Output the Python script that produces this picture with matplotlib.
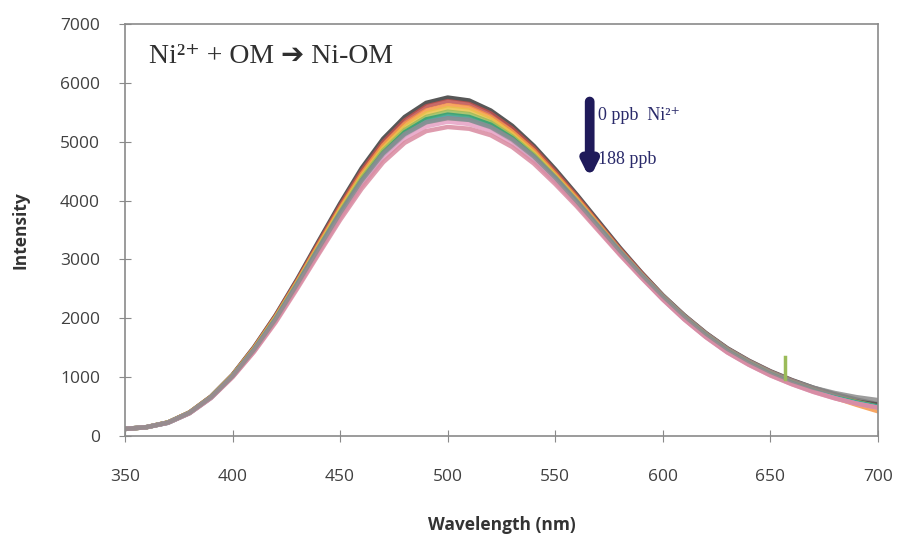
import matplotlib.pyplot as plt

# wavelength grid (nm)
wavelength = [350, 360, 370, 380, 390, 400, 410, 420, 430, 440, 450, 460,
              470, 480, 490, 500, 510, 520, 530, 540, 550, 560, 570, 580,
              590, 600, 610, 620, 630, 640, 650, 660, 670, 680, 690, 700]

# spectra, 0 ppb (top) -> 188 ppb (bottom)
s0 = [120, 150, 230, 400, 670, 1040, 1510, 2050, 2660, 3310, 3950, 4550,
      5050, 5420, 5660, 5750, 5700, 5530, 5270, 4930, 4530, 4100, 3650, 3200,
      2780, 2390, 2050, 1750, 1490, 1280, 1100, 950, 820, 710, 620, 540]
s1 = [120, 150, 230, 400, 670, 1035, 1500, 2040, 2640, 3280, 3910, 4500,
      4990, 5360, 5600, 5690, 5640, 5480, 5220, 4890, 4490, 4070, 3620, 3180,
      2770, 2380, 2040, 1740, 1480, 1270, 1090, 940, 800, 680, 580, 490]
s2 = [120, 150, 230, 400, 665, 1030, 1490, 2020, 2620, 3250, 3870, 4450,
      4940, 5300, 5530, 5620, 5580, 5420, 5170, 4850, 4450, 4040, 3600, 3160,
      2750, 2370, 2030, 1730, 1470, 1260, 1080, 920, 780, 650, 530, 420]
s3 = [120, 150, 230, 395, 660, 1025, 1480, 2010, 2600, 3220, 3840, 4410,
      4890, 5250, 5480, 5570, 5530, 5380, 5130, 4810, 4420, 4010, 3580, 3140,
      2740, 2360, 2020, 1720, 1460, 1250, 1070, 910, 780, 660, 560, 470]
s4 = [120, 150, 230, 395, 660, 1020, 1470, 2000, 2590, 3200, 3810, 4380,
      4850, 5200, 5420, 5510, 5470, 5330, 5090, 4780, 4400, 3990, 3560, 3130,
      2730, 2350, 2010, 1710, 1450, 1240, 1060, 910, 780, 670, 580, 500]
s5 = [120, 150, 225, 390, 655, 1015, 1460, 1980, 2570, 3180, 3780, 4340,
      4810, 5160, 5380, 5460, 5420, 5290, 5060, 4750, 4380, 3970, 3550, 3120,
      2720, 2340, 2000, 1700, 1440, 1230, 1050, 900, 770, 660, 570, 500]
s6 = [120, 150, 225, 390, 650, 1010, 1450, 1970, 2550, 3150, 3750, 4300,
      4770, 5110, 5330, 5410, 5370, 5240, 5020, 4720, 4350, 3950, 3530, 3110,
      2710, 2330, 1990, 1690, 1430, 1220, 1040, 890, 760, 650, 560, 490]
s7 = [120, 150, 225, 390, 650, 1005, 1440, 1950, 2530, 3120, 3710, 4250,
      4710, 5050, 5260, 5340, 5300, 5180, 4970, 4680, 4320, 3930, 3510, 3090,
      2700, 2320, 1980, 1680, 1420, 1210, 1030, 880, 750, 640, 550, 480]
s8 = [120, 150, 225, 385, 645, 1000, 1430, 1930, 2500, 3090, 3670, 4200,
      4650, 4980, 5180, 5250, 5220, 5110, 4910, 4630, 4280, 3900, 3490, 3080,
      2690, 2320, 1980, 1680, 1420, 1210, 1030, 880, 750, 640, 550, 480]
s9 = [120, 150, 228, 395, 660, 1020, 1470, 1990, 2580, 3190, 3790, 4340,
      4800, 5130, 5330, 5400, 5370, 5250, 5040, 4750, 4390, 3990, 3570, 3150,
      2750, 2380, 2040, 1740, 1480, 1270, 1090, 940, 820, 730, 660, 610]
spectra = [s0, s1, s2, s3, s4, s5, s6, s7, s8, s9]
colors = ['#3a3a3a', '#c0504d', '#f79646', '#e8c24a', '#9bbb59',
          '#2f9e77', '#4bacc6', '#e6a0c4', '#d98aa0', '#8c8c8c']

# small spike on one trace near 657 nm
spike_wl = [657, 657]
spike_val = [960, 1340]

serif = ['Liberation Serif', 'DejaVu Sans']

fig = plt.figure(figsize=(9.03, 5.4), dpi=100)
ax = fig.add_axes([0.1384, 0.1926, 0.8339, 0.763])

for s, c in zip(spectra, colors):
    ax.plot(wavelength, s, color=c, lw=3.2, alpha=0.85, solid_capstyle='round')
ax.plot(spike_wl, spike_val, color='#9bbb59', lw=2.5)

ax.set_xlim(350, 700)
ax.set_ylim(0, 7000)
ax.set_xticks(range(350, 701, 50))
ax.set_yticks(range(0, 7001, 1000))

for sp in ax.spines.values():
    sp.set_color('#8a8a8a')
    sp.set_linewidth(1.2)
ax.tick_params(axis='both', colors='#8a8a8a', labelcolor='#404040',
               labelsize=12.5, direction='inout', length=8)
for lab in ax.get_xticklabels() + ax.get_yticklabels():
    lab.set_family('Open Sans')
ax.tick_params(axis='x', pad=20)
ax.tick_params(axis='y', pad=14)

ax.set_xlabel('Wavelength (nm)', fontsize=12.5, fontweight='bold',
              family='Open Sans', color='#333333', labelpad=22)
ax.set_ylabel('Intensity', fontsize=12.5, fontweight='bold',
              family='Open Sans', color='#333333', labelpad=22)

ax.text(0.032, 0.92, 'Ni\u00b2\u207a + OM \u2794 Ni-OM', transform=ax.transAxes,
        fontsize=20, family=serif, color='#303030', va='center')

ax.annotate('', xy=(566, 4330), xytext=(566, 5730),
            arrowprops=dict(arrowstyle='-|>,head_width=0.4,head_length=0.8',
                            color='#1f1a5a', lw=7))
ax.text(570, 5450, '0 ppb  Ni\u00b2\u207a', fontsize=13, family=serif,
        color='#2a2a6a', va='center')
ax.text(570, 4690, '188 ppb', fontsize=13, family=serif,
        color='#2a2a6a', va='center')

fig.savefig('out.png', dpi=100)
